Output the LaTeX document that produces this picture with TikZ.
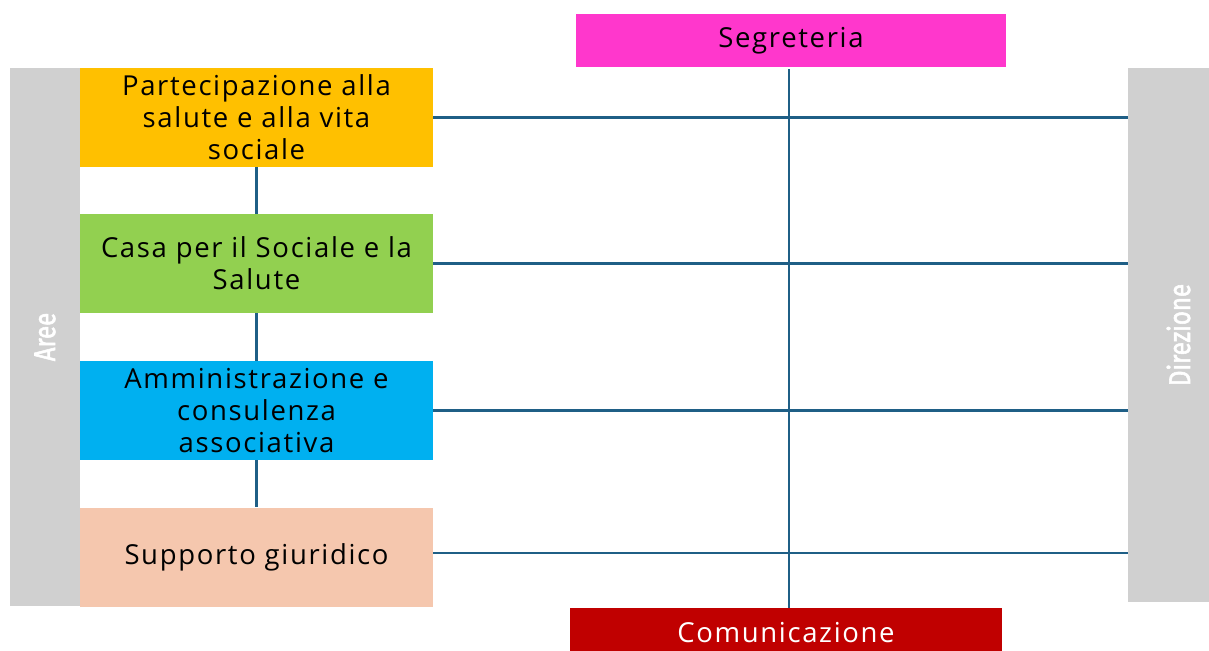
\documentclass[tikz,border=0pt]{standalone}
\usepackage{fontspec}
\setmainfont[LetterSpace=6]{Open Sans}
\newfontfamily\condfont[FakeStretch=0.8,FakeBold=1.8]{Fira Sans}
\definecolor{lnc}{HTML}{1F5F86}
\definecolor{grayb}{HTML}{D0D0D0}
\definecolor{corange}{HTML}{FFC000}
\definecolor{cgreen}{HTML}{92D050}
\definecolor{cblue}{HTML}{00B0F0}
\definecolor{cpeach}{HTML}{F5C7AE}
\definecolor{cpink}{HTML}{FF37CC}
\definecolor{cred}{HTML}{C00000}
\tikzset{
  area/.style={rectangle, inner sep=0pt, minimum width=353pt, minimum height=99pt, align=center, font=\fontsize{27.5}{32}\selectfont, text=black},
  topbox/.style={rectangle, inner sep=0pt, align=center, font=\fontsize{27.5}{32}\selectfont},
  side/.style={rectangle, fill=grayb, inner sep=0pt},
  sidetext/.style={text=white, rotate=90, font=\condfont\fontsize{30}{32}\selectfont},
  conn/.style={draw=lnc, line width=2.8pt}
}
\begin{document}
\begin{tikzpicture}[x=1pt, y=-1pt]
\useasboundingbox (0,0) rectangle (1209,650);
\node[side, minimum width=70pt, minimum height=538pt] (aree) at (45,337) {};
\node[sidetext] at (aree.center) {Aree};
\node[side, minimum width=81pt, minimum height=534pt] (dir) at (1168.5,335) {};
\node[sidetext] at ([xshift=10pt]dir.center) {Direzione};
\node[area, fill=corange] (p1) at (256.5,117.5) {Partecipazione alla\\salute e alla vita\\sociale};
\node[area, fill=cgreen] (p2) at (256.5,263.5) {Casa per il Sociale e la\\Salute};
\node[area, fill=cblue] (p3) at (256.5,410.5) {Amministrazione e\\consulenza\\associativa};
\node[area, fill=cpeach] (p4) at (256.5,557) {Supporto giuridico};
\node[topbox, fill=cpink, minimum width=430pt, minimum height=53pt, text=black] (seg) at (791,40.5) {Segreteria};
\node[topbox, fill=cred, minimum width=432pt, minimum height=50pt, anchor=north, text=white] (com) at (786,608) {};
\node[topbox, text=white] at (786,633) {Comunicazione};
\coordinate (vx) at (789,0);
\draw[conn] ([yshift=-2pt]seg.south -| vx) -- (com.north -| vx);
\draw[conn] (p1.east) -- (p1.east -| dir.west);
\draw[conn] (p2.east) -- (p2.east -| dir.west);
\draw[conn] (p3.east) -- (p3.east -| dir.west);
\draw[conn] ([yshift=4pt]p4.east) -- ([yshift=4pt]p4.east -| dir.west);
\draw[conn] (p1.south) -- (p2.north);
\draw[conn] (p2.south) -- (p3.north);
\draw[conn] (p3.south) -- (p4.north);
\end{tikzpicture}
\end{document}
